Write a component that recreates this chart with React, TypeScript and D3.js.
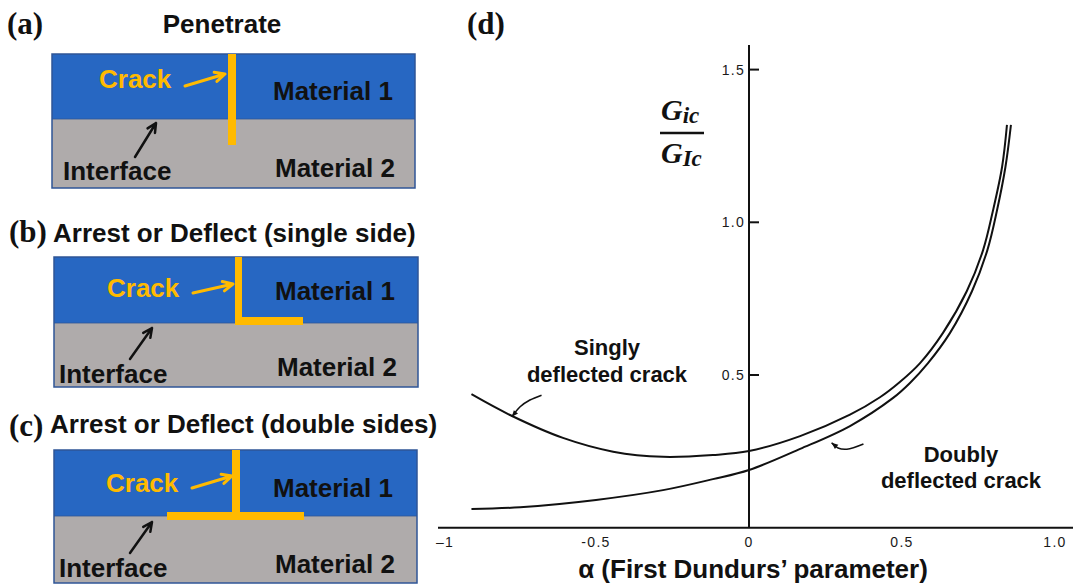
import React from 'react';
import * as d3 from 'd3';

// ---- Panel (d) data: G_ic/G_Ic vs alpha ----
const singlyAlpha = [-0.907, -0.781, -0.608, -0.444, -0.281, -0.118, 0, 0.167, 0.33, 0.428, 0.493, 0.559, 0.634, 0.712, 0.765, 0.797, 0.827, 0.843];
const singlyG = [0.437, 0.369, 0.294, 0.249, 0.232, 0.238, 0.251, 0.3, 0.37, 0.427, 0.477, 0.539, 0.638, 0.775, 0.909, 1.037, 1.181, 1.319];
const doublyAlpha = [-0.907, -0.748, -0.5, -0.281, -0.118, 0, 0.167, 0.33, 0.471, 0.526, 0.585, 0.657, 0.729, 0.779, 0.81, 0.838, 0.856];
const doublyG = [0.061, 0.067, 0.091, 0.123, 0.159, 0.189, 0.258, 0.333, 0.425, 0.474, 0.539, 0.638, 0.775, 0.909, 1.037, 1.181, 1.319];

const yTickValues = [0.5, 1.0, 1.5];
const yTickLabels = ['0.5', '1.0', '1.5'];
const xTickValues = [-1, -0.5, 0, 0.5, 1];
const xTickLabels = ['\u20131', '-0.5', '0', '0.5', '1.0'];

// leader lines (data units)
const singlyLeaderAlpha = [-0.678, -0.716, -0.748, -0.775];
const singlyLeaderG = [0.434, 0.418, 0.396, 0.363];
const doublyLeaderAlpha = [0.374, 0.32, 0.291, 0.27];
const doublyLeaderG = [0.274, 0.257, 0.261, 0.278];

const BLUE = '#2767C2';
const GRAY = '#AFABAB';
const EDGE = '#2F5597';
const ORANGE = '#FFBA00';
const SANS = '"Liberation Sans", Arial, Helvetica, sans-serif';
const SERIF = '"Liberation Serif", "Times New Roman", serif';

function arrow(x1: number, y1: number, x2: number, y2: number, size: number) {
  const ang = Math.atan2(y2 - y1, x2 - x1);
  const a1 = ang + Math.PI - 0.45;
  const a2 = ang + Math.PI + 0.45;
  return `M${x1},${y1}L${x2},${y2}M${x2 + size * Math.cos(a1)},${y2 + size * Math.sin(a1)}L${x2},${y2}L${x2 + size * Math.cos(a2)},${y2 + size * Math.sin(a2)}`;
}

type PanelSpec = {
  letter: string; letterX: number; letterY: number;
  title: string; titleX: number; titleY: number; titleAnchor: 'start' | 'middle';
  bx: number; bw: number; top: number; mid: number; bottom: number;
  cracks: [number, number, number, number][];
  crackText: [number, number]; crackArrow: [number, number, number, number];
  m1: [number, number]; m2: [number, number]; inter: [number, number];
  interArrow: [number, number, number, number];
};

const panelSpecs: PanelSpec[] = [
  {
    letter: '(a)', letterX: 7, letterY: 34, title: 'Penetrate', titleX: 222, titleY: 33, titleAnchor: 'middle',
    bx: 52, bw: 363, top: 54, mid: 119, bottom: 188,
    cracks: [[228, 54, 8, 91]],
    crackText: [99, 88], crackArrow: [185, 86, 225, 74],
    m1: [273, 100], m2: [275, 177], inter: [63, 180], interArrow: [135, 157, 156, 123],
  },
  {
    letter: '(b)', letterX: 9, letterY: 242, title: 'Arrest or Deflect (single side)', titleX: 53, titleY: 242, titleAnchor: 'start',
    bx: 54, bw: 364, top: 257, mid: 323, bottom: 387,
    cracks: [[235, 257, 7, 68], [235, 317, 68, 8]],
    crackText: [107, 297], crackArrow: [193, 293, 233, 284],
    m1: [275, 300], m2: [277, 376], inter: [59, 383], interArrow: [130, 359, 152, 328],
  },
  {
    letter: '(c)', letterX: 9, letterY: 436, title: 'Arrest or Deflect (double sides)', titleX: 50, titleY: 433, titleAnchor: 'start',
    bx: 54, bw: 363, top: 450, mid: 516, bottom: 583,
    cracks: [[232, 450, 8, 66], [167, 512, 137, 8]],
    crackText: [106, 492], crackArrow: [192, 488, 232, 476],
    m1: [273, 497], m2: [275, 573], inter: [59, 577], interArrow: [130, 553, 152, 522],
  },
];

function Panel({ p }: { p: PanelSpec }) {
  const fs = 26;
  return (
    <g>
      <text x={p.letterX} y={p.letterY} fontFamily={SERIF} fontWeight="bold" fontSize={31} fill="#111">{p.letter}</text>
      <text x={p.titleX} y={p.titleY} textAnchor={p.titleAnchor} fontFamily={SANS} fontWeight="bold" fontSize={fs} fill="#111">{p.title}</text>
      <rect x={p.bx} y={p.top} width={p.bw} height={p.mid - p.top} fill={BLUE} />
      <rect x={p.bx} y={p.mid} width={p.bw} height={p.bottom - p.mid} fill={GRAY} />
      <rect x={p.bx} y={p.top} width={p.bw} height={p.bottom - p.top} fill="none" stroke={EDGE} strokeWidth={1.5} />
      <line x1={p.bx} x2={p.bx + p.bw} y1={p.mid} y2={p.mid} stroke={EDGE} strokeWidth={0.8} />
      {p.cracks.map((c, i) => (
        <rect key={i} x={c[0]} y={c[1]} width={c[2]} height={c[3]} fill={ORANGE} />
      ))}
      <text x={p.crackText[0]} y={p.crackText[1]} fontFamily={SANS} fontWeight="bold" fontSize={fs} fill={ORANGE}>Crack</text>
      <path d={arrow(p.crackArrow[0], p.crackArrow[1], p.crackArrow[2], p.crackArrow[3], 11)} stroke={ORANGE} strokeWidth={3} fill="none" strokeLinecap="round" strokeLinejoin="round" />
      <text x={p.m1[0]} y={p.m1[1]} fontFamily={SANS} fontWeight="bold" fontSize={fs} fill="#111">Material 1</text>
      <text x={p.m2[0]} y={p.m2[1]} fontFamily={SANS} fontWeight="bold" fontSize={fs} fill="#111">Material 2</text>
      <text x={p.inter[0]} y={p.inter[1]} fontFamily={SANS} fontWeight="bold" fontSize={fs} fill="#111">Interface</text>
      <path d={arrow(p.interArrow[0], p.interArrow[1], p.interArrow[2], p.interArrow[3], 10)} stroke="#111" strokeWidth={2.5} fill="none" strokeLinecap="round" strokeLinejoin="round" />
    </g>
  );
}

export default function App() {
  const W = 1073, H = 588;
  const x = d3.scaleLinear().domain([-1, 1]).range([443, 1055]);
  const y = d3.scaleLinear().domain([0, 1.5]).range([527.7, 69.6]);

  const curveLine = d3.line<[number, number]>()
    .x(d => x(d[0]))
    .y(d => y(d[1]))
    .curve(d3.curveCatmullRom.alpha(0.5));

  const singly = singlyAlpha.map((a, i) => [a, singlyG[i]] as [number, number]);
  const doubly = doublyAlpha.map((a, i) => [a, doublyG[i]] as [number, number]);
  const sLead = singlyLeaderAlpha.map((a, i) => [a, singlyLeaderG[i]] as [number, number]);
  const dLead = doublyLeaderAlpha.map((a, i) => [a, doublyLeaderG[i]] as [number, number]);

  const head = (pts: [number, number][]) => {
    const n = pts.length;
    const x1 = x(pts[n - 2][0]), y1 = y(pts[n - 2][1]);
    const x2 = x(pts[n - 1][0]), y2 = y(pts[n - 1][1]);
    const ang = Math.atan2(y2 - y1, x2 - x1);
    const s = 7;
    const a1 = ang + Math.PI - 0.4, a2 = ang + Math.PI + 0.4;
    return `M${x2},${y2}L${x2 + s * Math.cos(a1)},${y2 + s * Math.sin(a1)}L${x2 + s * Math.cos(a2)},${y2 + s * Math.sin(a2)}Z`;
  };

  const ink = '#111';
  const tickFont = { fontFamily: SANS, fontSize: 14, letterSpacing: 1.3, fill: '#1a1a1a' } as const;
  const yAxisX = x(0);

  return (
    <svg width={W} height={H} viewBox={`0 0 ${W} ${H}`} style={{ position: 'absolute', left: 0, top: 0, background: '#fff' }}>
      <rect x={0} y={0} width={W} height={H} fill="#fff" />
      {panelSpecs.map((p, i) => <Panel key={i} p={p} />)}

      {/* Panel (d) */}
      <text x={467} y={34} fontFamily={SERIF} fontWeight="bold" fontSize={31} fill="#111">(d)</text>

      {/* axes */}
      <line x1={438} x2={W} y1={y(0)} y2={y(0)} stroke={ink} strokeWidth={2} />
      <line x1={yAxisX} x2={yAxisX} y1={45} y2={y(0)} stroke={ink} strokeWidth={2} />
      {yTickValues.map((v, i) => (
        <g key={i}>
          <line x1={yAxisX} x2={yAxisX + 10} y1={y(v)} y2={y(v)} stroke={ink} strokeWidth={2} />
          <text x={yAxisX - 4} y={y(v) + 5} textAnchor="end" {...tickFont}>{yTickLabels[i]}</text>
        </g>
      ))}
      {xTickValues.map((v, i) => (
        <text key={i} x={x(v) + (i === 0 ? 2 : 0)} y={547} textAnchor="middle" {...tickFont}>{xTickLabels[i]}</text>
      ))}
      <text x={753} y={578} textAnchor="middle" fontFamily={SANS} fontWeight="bold" fontSize={26} fill="#111">α (First Dundurs’ parameter)</text>

      {/* y label fraction */}
      <text x={661} y={120} fontFamily={SERIF} fontWeight="bold" fontStyle="italic" fontSize={30} fill="#111">
        G<tspan fontSize={23} dy={3}>ic</tspan>
      </text>
      <line x1={660} x2={704} y1={133} y2={133} stroke="#111" strokeWidth={2.5} />
      <text x={661} y={163} fontFamily={SERIF} fontWeight="bold" fontStyle="italic" fontSize={30} fill="#111">
        G<tspan fontSize={23} dy={3}>Ic</tspan>
      </text>

      {/* curves */}
      <path d={curveLine(singly) || ''} fill="none" stroke={ink} strokeWidth={2} />
      <path d={curveLine(doubly) || ''} fill="none" stroke={ink} strokeWidth={2} />

      {/* leaders */}
      <path d={curveLine(sLead) || ''} fill="none" stroke={ink} strokeWidth={1.6} />
      <path d={head(sLead)} fill={ink} />
      <path d={curveLine(dLead) || ''} fill="none" stroke={ink} strokeWidth={1.6} />
      <path d={head(dLead)} fill={ink} />

      {/* labels */}
      <text x={607} y={355} textAnchor="middle" fontFamily={SANS} fontWeight="bold" fontSize={22} fill="#111">Singly</text>
      <text x={607} y={382} textAnchor="middle" fontFamily={SANS} fontWeight="bold" fontSize={22} fill="#111">deflected crack</text>
      <text x={961} y={462} textAnchor="middle" fontFamily={SANS} fontWeight="bold" fontSize={22} fill="#111">Doubly</text>
      <text x={961} y={488} textAnchor="middle" fontFamily={SANS} fontWeight="bold" fontSize={22} fill="#111">deflected crack</text>
    </svg>
  );
}
